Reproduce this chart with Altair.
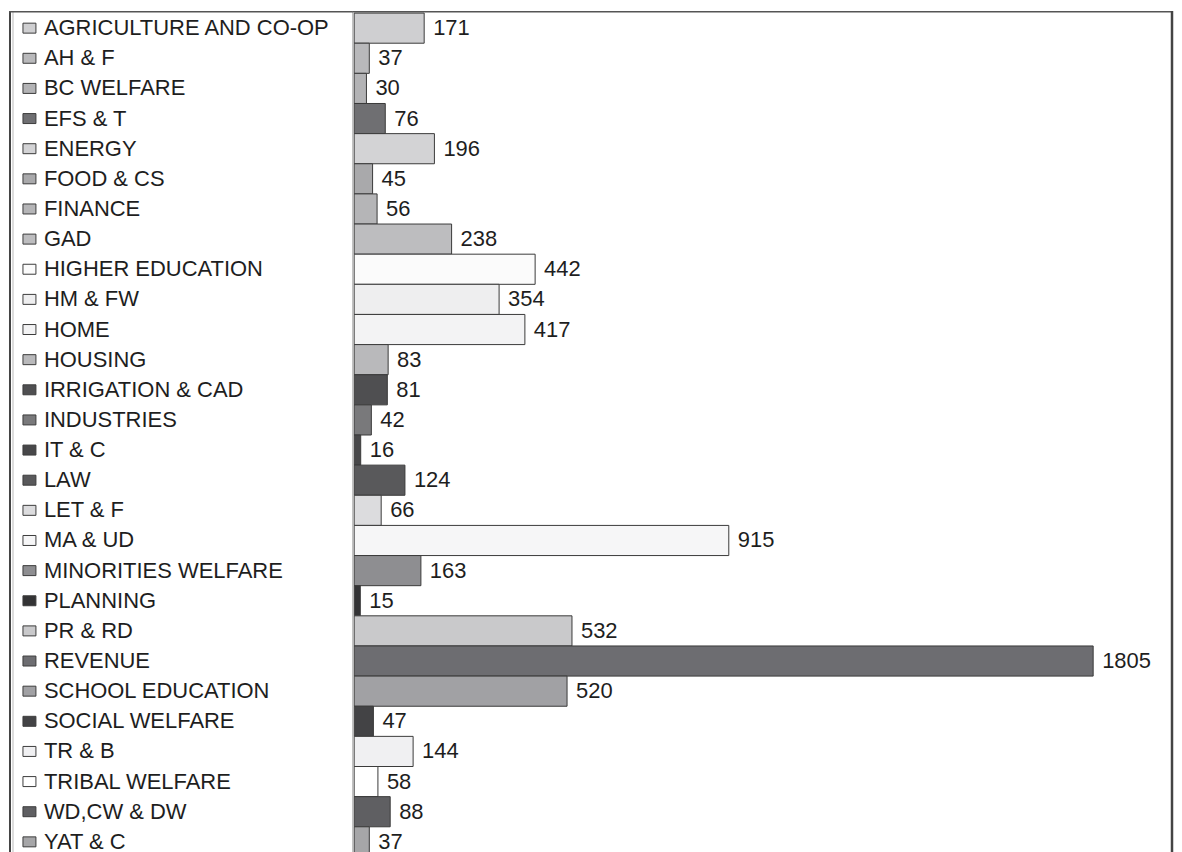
import altair as alt
import pandas as pd

categories = [
    "AGRICULTURE AND CO-OP", "AH & F", "BC WELFARE", "EFS & T", "ENERGY",
    "FOOD & CS", "FINANCE", "GAD", "HIGHER EDUCATION", "HM & FW", "HOME",
    "HOUSING", "IRRIGATION & CAD", "INDUSTRIES", "IT & C", "LAW", "LET & F",
    "MA & UD", "MINORITIES WELFARE", "PLANNING", "PR & RD", "REVENUE",
    "SCHOOL EDUCATION", "SOCIAL WELFARE", "TR & B", "TRIBAL WELFARE",
    "WD,CW & DW", "YAT & C",
]
values = [171, 37, 30, 76, 196, 45, 56, 238, 442, 354, 417, 83, 81, 42, 16,
          124, 66, 915, 163, 15, 532, 1805, 520, 47, 144, 58, 88, 37]
colors = [
    "#cfcfd1", "#b9b9bb", "#b3b3b5", "#6f6f72", "#d3d3d5", "#a9a9ab",
    "#b5b5b7", "#bdbdbf", "#fbfbfb", "#eeeeef", "#f3f3f4", "#b9b9bb",
    "#4f4f51", "#79797b", "#474749", "#59595b", "#dcdcde", "#f6f6f7",
    "#8e8e91", "#333335", "#c9c9cb", "#6d6d71", "#a1a1a4", "#434345",
    "#f0f0f2", "#ffffff", "#5f5f62", "#a6a6a8",
]

df = pd.DataFrame({"dept": categories, "count": values})
one = pd.DataFrame({"k": [0]})

H = 850
LW = 344
RW = 823
FONT = "Liberation Sans"
FS = 22

yenc = alt.Y("dept:N", sort=categories, axis=None,
             scale=alt.Scale(domain=categories, paddingInner=0, paddingOuter=0.066))
color = alt.Color("dept:N", scale=alt.Scale(domain=categories, range=colors), legend=None)

# ---- left label panel ----
swatch = alt.Chart(df).mark_bar(size=10, stroke="#3c3c3c", strokeWidth=1).encode(
    x=alt.value(14), x2=alt.value(27), y=yenc, color=color
)
names = alt.Chart(df).mark_text(align="left", baseline="middle", font=FONT,
                                fontSize=FS, color="#1e1e1e").encode(
    x=alt.value(35), y=yenc, text="dept:N"
)
l_outer = alt.Chart(one).mark_rule(color="#444444", strokeWidth=2).encode(
    x=alt.value(1), y=alt.value(0), y2=alt.value(H))
l_inner = alt.Chart(one).mark_rule(color="#bbbbbb", strokeWidth=1).encode(
    x=alt.value(4), y=alt.value(0), y2=alt.value(H))
l_top = alt.Chart(one).mark_rule(color="#555555", strokeWidth=1.5).encode(
    y=alt.value(0.75), x=alt.value(0), x2=alt.value(LW))

left = alt.layer(l_outer, l_inner, l_top, swatch, names).properties(width=LW, height=H)

# ---- right bar panel ----
xenc = alt.X("count:Q", scale=alt.Scale(domain=[-5, 2000], nice=False, zero=False), axis=None)
bars = alt.Chart(df).mark_bar(stroke="#3a3a3a", strokeWidth=1).encode(
    x=xenc, x2=alt.datum(0), y=yenc, color=color
)
labels = alt.Chart(df).mark_text(align="left", baseline="middle", dx=9, font=FONT,
                                 fontSize=FS, color="#1e1e1e").encode(
    x=xenc, y=yenc, text="count:Q"
)
r_sep = alt.Chart(one).mark_rule(color="#bbbbbb", strokeWidth=1).encode(
    x=alt.value(0.5), y=alt.value(0), y2=alt.value(H))
r_top = alt.Chart(one).mark_rule(color="#555555", strokeWidth=1.5).encode(
    y=alt.value(0.75), x=alt.value(0), x2=alt.value(RW))
r_right = alt.Chart(one).mark_rule(color="#444444", strokeWidth=2.5).encode(
    x=alt.value(RW - 1), y=alt.value(0), y2=alt.value(H))

right = alt.layer(r_sep, r_top, r_right, bars, labels).properties(width=RW, height=H)

chart = alt.hconcat(left, right, spacing=0, bounds="flush").properties(
    padding={"left": 0, "top": 0, "right": 0, "bottom": 0},
    background="white",
).configure_view(stroke=None)

chart.save("out.html", embed_options={"renderer": "svg", "actions": False})
